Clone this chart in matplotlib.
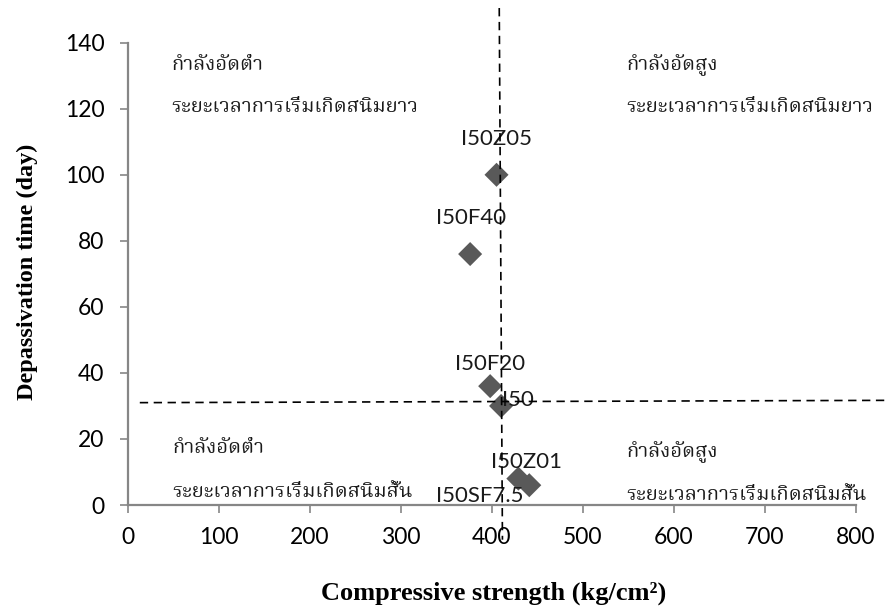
import matplotlib
matplotlib.use("Agg")
import matplotlib.pyplot as plt
from matplotlib import font_manager
from matplotlib.ft2font import FT2Font

# ---- data ----
mix_names = ["I50", "I50F20", "I50F40", "I50Z01", "I50Z05", "I50SF7.5"]
strength = [410, 398, 376, 429, 405, 441]        # kg/cm2
depassivation = [30, 36, 76, 8, 100, 6]         # day

x_ticks = [0, 100, 200, 300, 400, 500, 600, 700, 800]
y_ticks = [0, 20, 40, 60, 80, 100, 120, 140]

strength_limit = 411     # vertical divider
time_limit = 31          # horizontal divider

quadrant_text = {
    "top_left": ["กำลังอัดต่ำ", "ระยะเวลาการเริ่มเกิดสนิมยาว"],
    "top_right": ["กำลังอัดสูง", "ระยะเวลาการเริ่มเกิดสนิมยาว"],
    "bottom_left": ["กำลังอัดต่ำ", "ระยะเวลาการเริ่มเกิดสนิมสั้น"],
    "bottom_right": ["กำลังอัดสูง", "ระยะเวลาการเริ่มเกิดสนิมสั้น"],
}


def thai_family():
    """Pick an installed family that carries Thai glyphs."""
    found = []
    for fe in font_manager.fontManager.ttflist:
        try:
            cmap = FT2Font(fe.fname).get_charmap()
        except Exception:
            continue
        if 0x0E01 in cmap and 0x0E33 in cmap and 0x0E34 in cmap:
            found.append(fe.name)
    prefs = ["Noto Serif Thai", "Norasi", "Loma", "Garuda", "Kinnari",
             "Noto Sans Thai", "Noto Sans Thai UI", "Sarabun", "Waree"]
    for p in prefs:
        if p in found:
            return p
    return found[0] if found else "DejaVu Sans"


THAI = thai_family()
SANS = ["Lato", "DejaVu Sans"]
SERIF = ["Liberation Serif", "DejaVu Serif"]

plt.rcParams["lines.scale_dashes"] = False

fig = plt.figure(figsize=(8.85, 6.10), dpi=100)
ax = fig.add_axes([0.1446, 0.1721, 0.8226, 0.7579])

axis_grey = "#868686"
marker_grey = "#595959"

ax.scatter(strength, depassivation, marker="D", s=150, color=marker_grey,
           edgecolors="none", zorder=3)

# label offsets in points (dx, dy)
label_offsets = {
    "I50": (12, 4),
    "I50F20": (0, 16),
    "I50F40": (1, 26),
    "I50Z01": (6, 12),
    "I50Z05": (0, 26),
    "I50SF7.5": (-36, -8),
}
for name, xv, yv in zip(mix_names, strength, depassivation):
    dx, dy = label_offsets[name]
    ax.annotate(name, (xv, yv), xytext=(dx, dy), textcoords="offset points",
                ha="center", va="center", fontsize=16, family=SANS,
                color="#1a1a1a", zorder=4)

# divider lines
ax.plot([408, 411.5], [150.5, -10.5], color="black", lw=1.2,
        dashes=(6, 4), clip_on=False, zorder=5)
ax.plot([13, 840], [time_limit, time_limit + 0.7], color="black", lw=1.2,
        dashes=(6, 4), clip_on=False, zorder=5)

# quadrant notes
thai_size = 14.6
positions = {
    "top_left": (48, [131.8, 119.0]),
    "top_right": (548, [131.8, 119.0]),
    "bottom_left": (49, [15.8, 2.4]),
    "bottom_right": (548, [14.5, 1.5]),
}
for key, (xv, ys) in positions.items():
    for line, yv in zip(quadrant_text[key], ys):
        ax.text(xv, yv, line, ha="left", va="baseline", fontsize=thai_size,
                family=[THAI, "DejaVu Sans"], color="#1a1a1a", zorder=4,
                clip_on=False)

ax.set_xlim(0, 800)
ax.set_ylim(0, 140)
ax.set_xticks(x_ticks)
ax.set_yticks(y_ticks)
ax.set_xticklabels([str(v) for v in x_ticks], family=SANS, fontsize=16.5)
ax.set_yticklabels([str(v) for v in y_ticks], family=SANS, fontsize=16.5)
ax.tick_params(direction="out", length=6, width=1.2, color=axis_grey,
               labelcolor="black")
ax.tick_params(axis="y", pad=11)
ax.tick_params(axis="x", pad=10)

for side in ("top", "right"):
    ax.spines[side].set_visible(False)
for side in ("left", "bottom"):
    ax.spines[side].set_color(axis_grey)
    ax.spines[side].set_linewidth(1.6)

fig.text(0.558, 0.028, "Compressive strength (kg/cm²)", ha="center",
         va="center", fontsize=19, fontweight="bold", family=SERIF)
fig.text(0.031, 0.555, "Depassivation time (day)", ha="center", va="center",
         rotation=90, fontsize=17.5, fontweight="bold", family=SERIF)

fig.savefig("out.png", dpi=100)
